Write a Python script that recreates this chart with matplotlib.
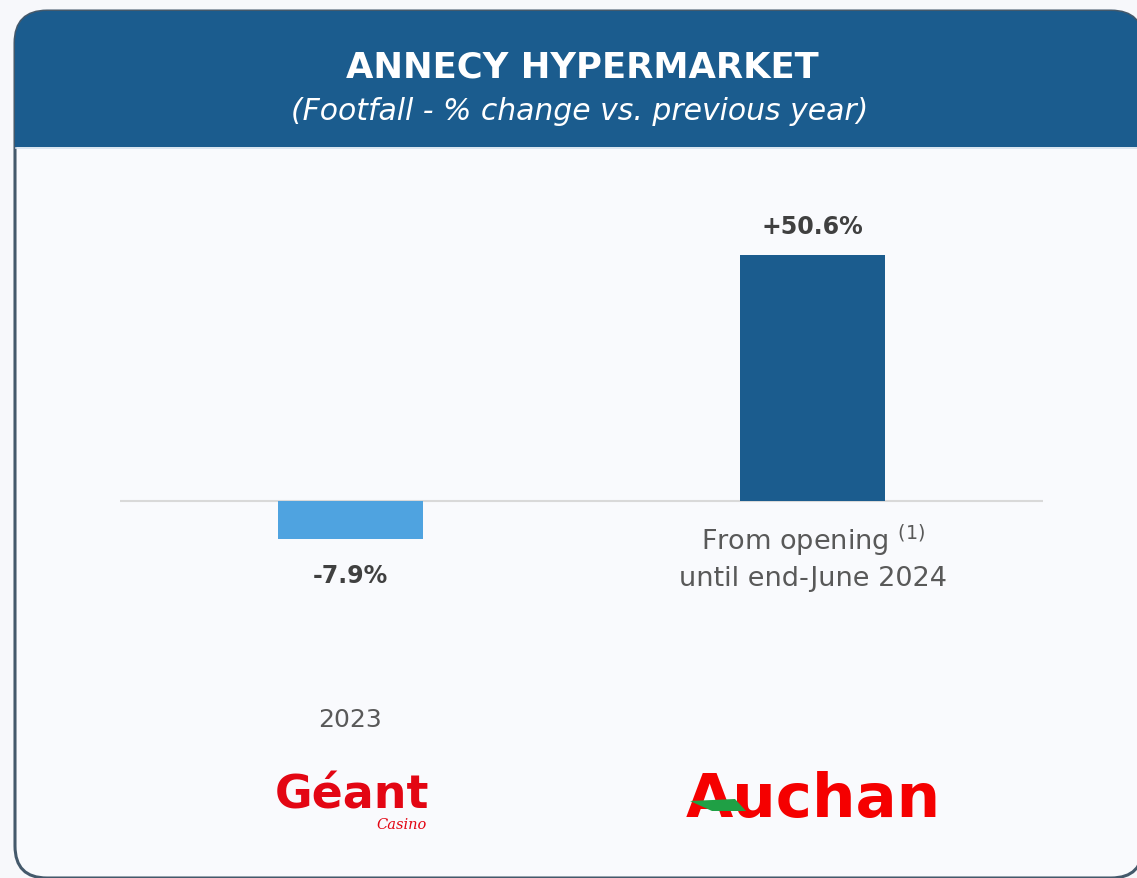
import matplotlib
matplotlib.use("Agg")
import matplotlib.pyplot as plt
from matplotlib.patches import FancyBboxPatch, Rectangle, Polygon

# ---- data ----
categories = ["2023", "From opening $^{(1)}$\nuntil end-June 2024"]
values = [-7.9, 50.6]
value_labels = ["-7.9%", "+50.6%"]
bar_colors = ["#4FA3E0", "#1B5C8E"]
title = "ANNECY HYPERMARKET"
subtitle = "(Footfall - % change vs. previous year)"

W, H = 1137, 879
fig = plt.figure(figsize=(W / 100, H / 100), dpi=100)
fig.patch.set_facecolor("#F7F8FB")

# background / card drawing axes in pixel coordinates
bg = fig.add_axes([0, 0, 1, 1])
bg.set_xlim(0, W)
bg.set_ylim(H, 0)
bg.axis("off")

card = FancyBboxPatch((15, 12), 1128, 867, boxstyle="round,pad=0,rounding_size=32",
                      facecolor="#F9FAFD", edgecolor="#44596B", linewidth=2.2, zorder=1)
bg.add_patch(card)
header = FancyBboxPatch((15, 12), 1128, 136, boxstyle="round,pad=0,rounding_size=32",
                        facecolor="#1B5C8E", edgecolor="none", zorder=2)
bg.add_patch(header)
bg.add_patch(Rectangle((15, 100), 1128, 48, facecolor="#1B5C8E", edgecolor="none", zorder=2))
bg.plot([16, W], [148.5, 148.5], color="#D6E2EE", lw=1.2, zorder=3)

bg.text(582, 68, title, color="white", fontsize=25.5, fontweight="bold",
        ha="center", va="center", family="DejaVu Sans", zorder=4)
bg.text(580, 112, subtitle, color="white", fontsize=21.5, style="italic",
        ha="center", va="center", family="DejaVu Sans", zorder=4)

# logos (as text)
bg.text(352, 796, "Géant", color="#E30613", fontsize=33, fontweight="bold",
        ha="center", va="center", family="DejaVu Sans", zorder=4)
bg.text(427, 825, "Casino", color="#E30613", fontsize=10.5, style="italic",
        ha="right", va="center", family="DejaVu Serif", zorder=4)
bg.text(813, 801, "Auchan", color="#F50000", fontsize=44, fontweight="heavy",
        ha="center", va="center", family="DejaVu Sans", zorder=4)
bg.add_patch(Polygon([[690, 802], [735, 800], [746, 812], [712, 812]],
                     closed=True, facecolor="#1FA045", edgecolor="none", zorder=5))

# ---- chart axes ----
scale = 4.85  # px per unit
ylo, yhi = -12, 60
base_px = 501.5
x0, x1 = 120, 1043
top_px = base_px - yhi * scale
bot_px = base_px - ylo * scale
ax = fig.add_axes([x0 / W, 1 - bot_px / H, (x1 - x0) / W, (bot_px - top_px) / H])
ax.set_facecolor("none")
ax.set_xlim(-0.5, 1.5)
ax.set_ylim(ylo, yhi)
for s in ax.spines.values():
    s.set_visible(False)
ax.set_xticks([])
ax.set_yticks([])
ax.axhline(0, color="#D9D9D9", lw=1.5, zorder=1)

xs = list(range(len(values)))
ax.bar(xs, values, width=0.314, color=bar_colors, zorder=2)

for x, v, lab in zip(xs, values, value_labels):
    if v >= 0:
        ax.annotate(lab, (x, v), xytext=(0, 17), textcoords="offset pixels",
                    ha="center", va="bottom", fontsize=17, fontweight="bold", color="#404040")
    else:
        ax.annotate(lab, (x, v), xytext=(0, -24), textcoords="offset pixels",
                    ha="center", va="top", fontsize=17, fontweight="bold", color="#404040")

# category labels
bg.text(350, 720, categories[0], color="#595959", fontsize=18, ha="center", va="center", zorder=4)
bg.text(813, 557, categories[1], color="#595959", fontsize=19.5, ha="center", va="center",
        linespacing=1.35, zorder=4)

fig.savefig("out.png", dpi=100, facecolor=fig.get_facecolor())
